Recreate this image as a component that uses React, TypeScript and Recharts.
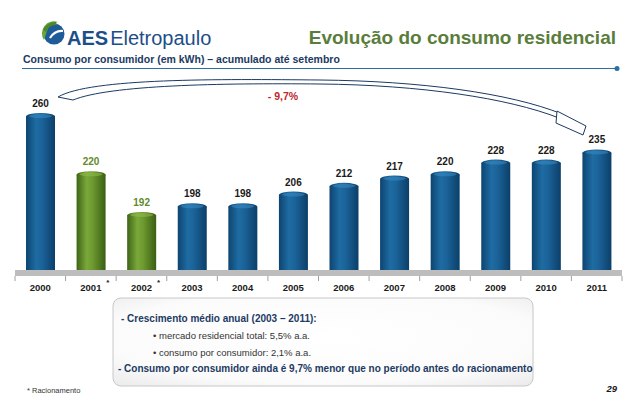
import { BarChart, Bar, XAxis, YAxis, LabelList } from 'recharts';

const years = ['2000', '2001', '2002', '2003', '2004', '2005', '2006', '2007', '2008', '2009', '2010', '2011'];
const consumo = [260, 220, 192, 198, 198, 206, 212, 217, 220, 228, 228, 235];
const racionamento = ['2001', '2002'];
const yDomain = [150, 280];

const chartData = years.map((year, i) => ({
  year,
  value: consumo[i],
  racionamento: racionamento.includes(year)
}));

const FONT = '"Liberation Sans", Arial, sans-serif';
const NAVY = '#1c3a63';
const GREEN_TEXT = '#5f8a2c';

// cylinder-like bar: gradient body + top/bottom ellipses
const CylinderBar = (props: any) => {
  const { x, y, width, height, payload } = props;
  if (height == null || height <= 0) return null;
  const green = payload.racionamento;
  const body = green ? 'url(#greenBody)' : 'url(#blueBody)';
  const top = green ? '#94bd4e' : '#3a8cc4';
  const bottomFill = green ? '#3f6418' : '#0d416c';
  const cx = x + width / 2;
  const ry = 3.5;
  return (
    <g>
      <ellipse cx={cx} cy={y + height} rx={width / 2} ry={ry} fill={bottomFill} />
      <rect x={x} y={y + ry} width={width} height={height - ry} fill={body} />
      <ellipse cx={cx} cy={y + ry} rx={width / 2} ry={ry} fill={body} />
      <ellipse cx={cx} cy={y + ry - 0.5} rx={width / 2 - 3} ry={ry - 1.5} fill={top} opacity={0.55} />
    </g>
  );
};

const ValueLabel = (props: any) => {
  const { x, y, width, value, index } = props;
  const green = chartData[index]?.racionamento;
  return (
    <text
      x={x + width / 2}
      y={y - 6}
      textAnchor="middle"
      fontFamily={FONT}
      fontSize={10}
      fontWeight="bold"
      fill={green ? GREEN_TEXT : '#1a1a1a'}
    >
      {value}
    </text>
  );
};

const YearTick = (props: any) => {
  const { x, y, payload, index } = props;
  const half = 607 / years.length / 2;
  const star = racionamento.includes(payload.value);
  return (
    <g>
      <line x1={x - half} x2={x - half} y1={y + 3} y2={y + 8} stroke="#888" strokeWidth={0.8} />
      {index === years.length - 1 && (
        <line x1={x + half} x2={x + half} y1={y + 3} y2={y + 8} stroke="#888" strokeWidth={0.8} />
      )}
      <text x={x} y={y + 18} textAnchor="middle" fontFamily={FONT} fontSize={9.5} fontWeight="bold" fill="#1a1a1a">
        {payload.value}
      </text>
      {star && (
        <text x={x + 17} y={y + 12} textAnchor="middle" fontFamily={FONT} fontSize={8} fontWeight="bold" fill="#1a1a1a">
          *
        </text>
      )}
    </g>
  );
};

function Background() {
  return (
    <svg width={638} height={399} style={{ position: 'absolute', left: 0, top: 0 }}>
      <defs>
        <radialGradient id="boxFill" cx="50%" cy="45%" r="80%">
          <stop offset="0%" stopColor="#ffffff" />
          <stop offset="65%" stopColor="#fbfbfb" />
          <stop offset="100%" stopColor="#e6e6e6" />
        </radialGradient>
      </defs>
      {/* logo */}
      <g>
        <circle cx={54} cy={34} r={10.5} fill="#1d5c99" />
        <path d="M 44 40 A 12 12 0 0 1 58 22 A 14 14 0 0 0 47 31 Z" fill="#6aa43a" />
        <path d="M 43 30 A 13 13 0 0 1 56 22 L 57 25 A 10 10 0 0 0 46 32 Z" fill="#4a8a2a" />
        <path d="M 50 38 Q 55 30 63 31" stroke="#ffffff" strokeWidth={2.2} fill="none" />
      </g>
      <text x={67} y={45} fontFamily={FONT} fontSize={20} fill="#1d4e89">
        <tspan fontWeight="bold">AES</tspan>
        <tspan dx={2}>Eletropaulo</tspan>
      </text>
      <text x={616} y={44} textAnchor="end" fontFamily={FONT} fontSize={19} fontWeight="bold" fill="#5a7d3c">
        Evolução do consumo residencial
      </text>
      <text x={23} y={63} fontFamily={FONT} fontSize={10.5} fontWeight="bold" fill={NAVY}>
        Consumo por consumidor (em kWh) – acumulado até setembro
      </text>
      <line x1={22} x2={616} y1={68.5} y2={68.5} stroke="#2c6ea6" strokeWidth={1.2} />
      <circle cx={617} cy={68.5} r={2.5} fill="#2c6ea6" />

      {/* curved arrow 2000 -> 2011 */}
      <path
        d="M 58 97 C 90 78, 220 79, 320 80 C 420 81, 510 93, 562 114 L 559 118 C 508 98, 420 85, 320 84 C 220 83, 110 85, 73 100 Z"
        fill="#ffffff"
        stroke="#1c3a63"
        strokeWidth={1}
      />
      <path d="M 557 111 L 586 126 L 583 135 L 556 123 Z" fill="#ffffff" stroke="#1c3a63" strokeWidth={1} />
      <text x={283} y={100} textAnchor="middle" fontFamily={FONT} fontSize={10.5} fontWeight="bold" fill="#c0262d">
        - 9,7%
      </text>

      {/* note box */}
      <rect x={113} y={298} width={420} height={88} rx={8} fill="url(#boxFill)" stroke="#c8c8c8" strokeWidth={1} />
      <text x={121} y={322} fontFamily={FONT} fontSize={10} fontWeight="bold" fill={NAVY}>
        - Crescimento médio anual (2003 – 2011):
      </text>
      <text x={153} y={339} fontFamily={FONT} fontSize={9.5} fill="#333">
        • mercado residencial total: 5,5% a.a.
      </text>
      <text x={153} y={356} fontFamily={FONT} fontSize={9.5} fill="#333">
        • consumo por consumidor: 2,1% a.a.
      </text>
      <text x={118} y={372} fontFamily={FONT} fontSize={10} fontWeight="bold" fill={NAVY}>
        - Consumo por consumidor ainda é 9,7% menor que no período antes do racionamento
      </text>

      <text x={27} y={393} fontFamily={FONT} fontSize={7.5} fill="#333">
        * Racionamento
      </text>
      <text x={617} y={392} textAnchor="end" fontFamily={FONT} fontSize={9.5} fontWeight="bold" fontStyle="italic" fill="#1a1a1a">
        29
      </text>
    </svg>
  );
}

export default function App() {
  return (
    <div style={{ position: 'absolute', left: 0, top: 0, width: 638, height: 399, background: '#fff', overflow: 'hidden' }}>
      <Background />
      <div style={{ position: 'absolute', left: 0, top: 0 }}>
        <BarChart
          width={638}
          height={399}
          data={chartData}
          margin={{ top: 84, right: 16, left: 15, bottom: 96 }}
          barCategoryGap={0}
        >
          <defs>
            <linearGradient id="blueBody" x1="0" y1="0" x2="1" y2="0">
              <stop offset="0%" stopColor="#0e4470" />
              <stop offset="35%" stopColor="#1e6ca3" />
              <stop offset="55%" stopColor="#1b6399" />
              <stop offset="100%" stopColor="#0c3f69" />
            </linearGradient>
            <linearGradient id="greenBody" x1="0" y1="0" x2="1" y2="0">
              <stop offset="0%" stopColor="#3e6416" />
              <stop offset="35%" stopColor="#7aa83a" />
              <stop offset="55%" stopColor="#6e9a30" />
              <stop offset="100%" stopColor="#3a5e14" />
            </linearGradient>
          </defs>
          <YAxis hide domain={yDomain} allowDataOverflow />
          <XAxis
            dataKey="year"
            height={30}
            interval={0}
            tickLine={false}
            tickSize={0}
            tickMargin={0}
            axisLine={{ stroke: '#bdbdbd', strokeWidth: 6 }}
            tick={<YearTick />}
          />
          <Bar dataKey="value" barSize={29} shape={<CylinderBar />} isAnimationActive={false}>
            <LabelList dataKey="value" content={<ValueLabel />} />
          </Bar>
        </BarChart>
      </div>
    </div>
  );
}
